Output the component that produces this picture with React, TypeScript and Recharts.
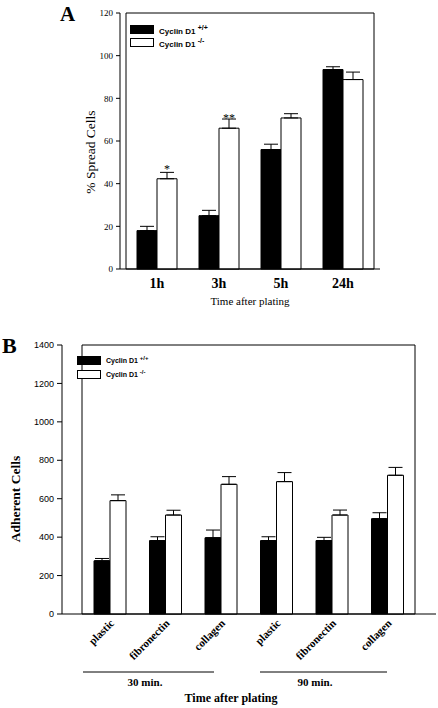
import { BarChart, Bar, XAxis, YAxis, ErrorBar, LabelList, ReferenceArea } from "recharts";

// Panel A: % spread cells over time
const timesA = ["1h", "3h", "5h", "24h"];
const wildA = [18, 25, 56, 93.5];
const wildErrA = [2, 2.5, 2.5, 1.3];
const nullA = [42.3, 66, 70.8, 88.8];
const nullErrA = [3, 4.3, 2, 3.5];
const sigA = ["*", "**", "", ""];
const ticksA = [0, 20, 40, 60, 80, 100, 120];

// Panel B: adherent cells per substrate
const substratesB = ["plastic", "fibronectin", "collagen", "plastic", "fibronectin", "collagen"];
const groupsB = ["30 min", "30 min", "30 min", "90 min", "90 min", "90 min"];
const wildB = [277, 382, 397, 382, 382, 496];
const wildErrB = [12, 20, 40, 20, 17, 31];
const nullB = [590, 515, 675, 689, 515, 722];
const nullErrB = [30, 25, 40, 47, 26, 41];
const ticksB = [0, 200, 400, 600, 800, 1000, 1200, 1400];

const SERIF = "'Liberation Serif', 'Times New Roman', serif";
const SANS = "'Liberation Sans', Arial, sans-serif";

const dataA = timesA.map((t, i) => ({
  time: t,
  wild: wildA[i],
  wildErr: [0, wildErrA[i]],
  nul: nullA[i],
  nulErr: [0, nullErrA[i]],
  sig: sigA[i],
}));

const dataB = substratesB.map((s, i) => ({
  key: `${groupsB[i]}-${s}`,
  substrate: s,
  wild: wildB[i],
  wildErr: [0, wildErrB[i]],
  nul: nullB[i],
  nulErr: [0, nullErrB[i]],
}));

// legend drawn as plain overlay so it doesn't eat plot space
function LegendBox({ fontSize, gap }: { fontSize: number; gap: number }) {
  const row = (fill: string, sup: string) => (
    <div style={{ display: "flex", alignItems: "center", height: gap }}>
      <div style={{ width: 22, height: 7, background: fill, border: "1px solid #000" }} />
      <span style={{ marginLeft: 5, fontFamily: SANS, fontWeight: "bold", fontSize, color: "#000" }}>
        Cyclin D1 <sup style={{ fontSize: fontSize - 1 }}>{sup}</sup>
      </span>
    </div>
  );
  return (
    <div>
      {row("#000", "+/+")}
      {row("#fff", "-/-")}
    </div>
  );
}

function TickA(props: any) {
  const { x, y, payload } = props;
  return (
    <text x={x} y={y + 19} textAnchor="middle" fontFamily={SERIF} fontWeight="bold" fontSize={14} fill="#000">
      {payload.value}
    </text>
  );
}

function TickB(props: any) {
  const { x, y, index } = props;
  return (
    <g transform={`translate(${x + 5},${y + 10})`}>
      <text x={0} y={0} textAnchor="end" transform="rotate(-45)" fontFamily={SERIF} fontWeight="bold" fontSize={11} fill="#000">
        {substratesB[index]}
      </text>
    </g>
  );
}

const yTitle = (text: string, x: number, cy: number, bold: boolean, size: number) => () => (
  <text
    x={x}
    y={cy}
    transform={`rotate(-90 ${x} ${cy})`}
    textAnchor="middle"
    dominantBaseline="central"
    fontFamily={SERIF}
    fontWeight={bold ? "bold" : "normal"}
    fontSize={size}
    fill="#000"
  >
    {text}
  </text>
);

// group brackets + title under panel B (chart-local coordinates)
const GroupLabelsB = () => (
  <g fontFamily={SERIF} fill="#000">
    <line x1={83} x2={214} y1={342} y2={342} stroke="#000" strokeWidth={1} />
    <line x1={260} x2={387} y1={342} y2={342} stroke="#000" strokeWidth={1} />
    <text x={145} y={356} textAnchor="middle" fontSize={11} fontWeight="bold">30 min.</text>
    <text x={315} y={356} textAnchor="middle" fontSize={11} fontWeight="bold">90 min.</text>
    <text x={231} y={372} textAnchor="middle" fontSize={12} fontWeight="bold">Time after plating</text>
  </g>
);

export default function App() {
  return (
    <div style={{ position: "absolute", left: 0, top: 0, width: 438, height: 708, background: "#fff" }}>
      <div style={{ position: "absolute", left: 0, top: 0 }}>
        <BarChart width={438} height={320} data={dataA} margin={{ top: 13, right: 58, bottom: 11, left: 70 }} barGap={0}>
          <ReferenceArea y1={0} y2={120} fill="none" stroke="#000" strokeWidth={1} ifOverflow="visible" />
          <XAxis
            dataKey="time"
            height={40}
            tickLine={false}
            tickSize={0}
            tickMargin={0}
            padding={{ left: 6, right: 6 }}
            axisLine={{ stroke: "#000" }}
            tick={<TickA />}
            label={{
              value: "Time after plating",
              position: "insideBottom",
              offset: 4,
              style: { fontFamily: SERIF, fontSize: 11, fill: "#000" },
            }}
          />
          <YAxis
            width={50}
            domain={[0, 120]}
            ticks={ticksA}
            tickSize={4}
            tickMargin={3}
            tickLine={{ stroke: "#000" }}
            axisLine={{ stroke: "#000" }}
            tick={{ fontFamily: SERIF, fontSize: 9, fill: "#000" }}
            label={yTitle("% Spread Cells", 90, 152, false, 13.5)}
          />
          <Bar dataKey="wild" fill="#000" stroke="#000" barSize={20} isAnimationActive={false}>
            <ErrorBar dataKey="wildErr" width={7} stroke="#000" strokeWidth={1} direction="y" />
          </Bar>
          <Bar dataKey="nul" fill="#fff" stroke="#000" barSize={20} isAnimationActive={false}>
            <ErrorBar dataKey="nulErr" width={7} stroke="#000" strokeWidth={1} direction="y" />
            <LabelList dataKey="sig" position="top" offset={6} fill="#000" fontFamily={SERIF} fontSize={12} />
          </Bar>
        </BarChart>
      </div>

      <div style={{ position: "absolute", left: 0, top: 330 }}>
        <BarChart width={438} height={378} data={dataB} margin={{ top: 15, right: 2, bottom: 0, left: 12 }} barGap={0}>
          <ReferenceArea y1={0} y2={1400} fill="none" stroke="#000" strokeWidth={1} ifOverflow="visible" />
          <XAxis
            dataKey="key"
            height={94}
            tickLine={false}
            tickSize={0}
            tickMargin={0}
            padding={{ left: 20, right: 21 }}
            axisLine={{ stroke: "#000" }}
            tick={<TickB />}
            interval={0}
            label={GroupLabelsB}
          />
          <YAxis
            width={50}
            domain={[0, 1400]}
            ticks={ticksB}
            tickSize={5}
            tickMargin={3}
            tickLine={{ stroke: "#000" }}
            axisLine={{ stroke: "#000" }}
            tick={{ fontFamily: SANS, fontSize: 9, fill: "#000" }}
            label={yTitle("Adherent Cells", 15, 169, true, 13.5)}
          />
          <Bar dataKey="wild" fill="#000" stroke="#000" barSize={16} isAnimationActive={false}>
            <ErrorBar dataKey="wildErr" width={7} stroke="#000" strokeWidth={1} direction="y" />
          </Bar>
          <Bar dataKey="nul" fill="#fff" stroke="#000" barSize={16} isAnimationActive={false}>
            <ErrorBar dataKey="nulErr" width={7} stroke="#000" strokeWidth={1} direction="y" />
          </Bar>
        </BarChart>
      </div>

      <div style={{ position: "absolute", left: 60, top: 2, fontFamily: SERIF, fontWeight: "bold", fontSize: 21 }}>A</div>
      <div style={{ position: "absolute", left: 2, top: 333, fontFamily: SERIF, fontWeight: "bold", fontSize: 22 }}>B</div>
      <div style={{ position: "absolute", left: 130, top: 23 }}>
        <LegendBox fontSize={8} gap={13} />
      </div>
      <div style={{ position: "absolute", left: 77, top: 353 }}>
        <LegendBox fontSize={7} gap={14} />
      </div>
    </div>
  );
}
